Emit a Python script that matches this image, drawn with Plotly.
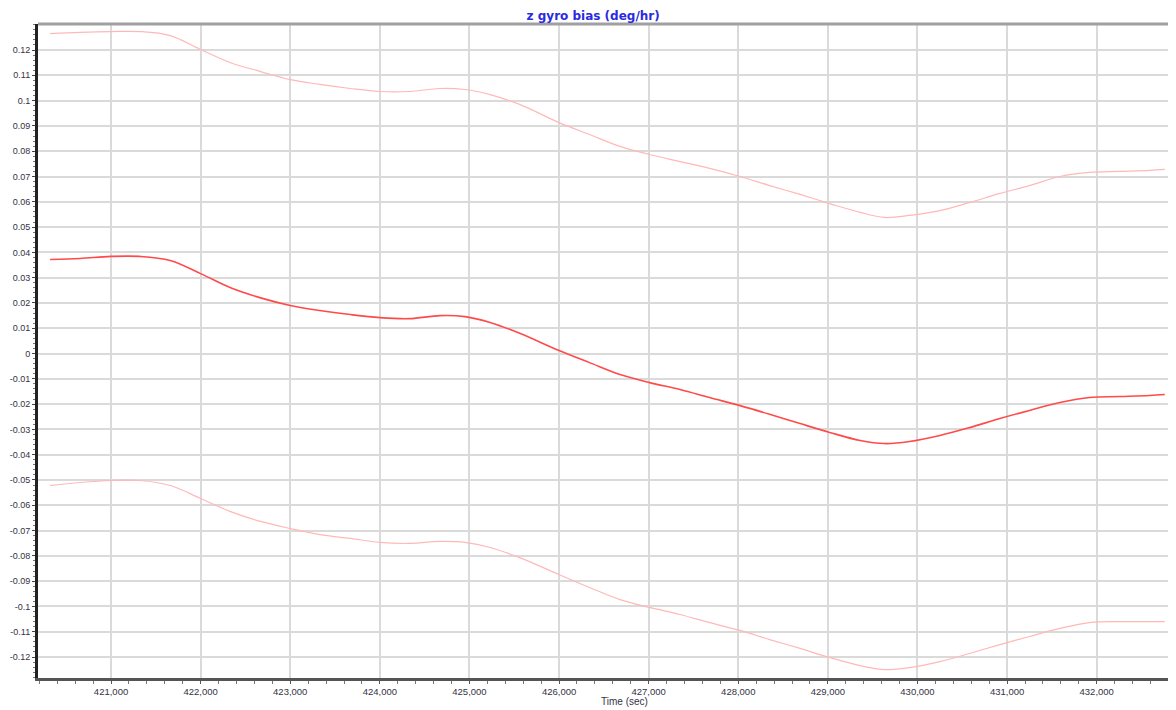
import plotly.graph_objects as go

# time axis (sec) and the three curves
time_sec = [420320, 420654, 421000, 421323, 421660, 422000, 422335, 422670, 423000, 423330,
            423670, 424000, 424330, 424670, 424950, 425230, 425560, 426000, 426340, 426680,
            427010, 427350, 427680, 428020, 428350, 428690, 429020, 429360, 429630, 429910,
            430250, 430580, 430920, 431250, 431590, 431920, 432260, 432590, 432760]

bias_mid = [0.0372, 0.0376, 0.0384, 0.0384, 0.0368, 0.0316, 0.0260, 0.0220, 0.0190, 0.0170,
            0.0154, 0.0142, 0.0138, 0.0150, 0.0146, 0.0123, 0.0080, 0.0012, -0.0036, -0.0083,
            -0.0115, -0.0142, -0.0174, -0.0206, -0.0240, -0.0277, -0.0312, -0.0344, -0.0356, -0.0348,
            -0.0324, -0.0293, -0.0257, -0.0225, -0.0194, -0.0174, -0.0170, -0.0166, -0.0162]

bias_upper = [0.1265, 0.1270, 0.1273, 0.1273, 0.1257, 0.1202, 0.1150, 0.1115, 0.1083, 0.1064,
              0.1048, 0.1036, 0.1036, 0.1048, 0.1044, 0.1024, 0.0985, 0.0913, 0.0866, 0.0819,
              0.0787, 0.0759, 0.0732, 0.0700, 0.0664, 0.0629, 0.0593, 0.0558, 0.0538, 0.0546,
              0.0565, 0.0597, 0.0633, 0.0664, 0.0700, 0.0716, 0.0720, 0.0724, 0.0728]

bias_lower = [-0.0522, -0.0510, -0.0502, -0.0502, -0.0522, -0.0573, -0.0625, -0.0664, -0.0692, -0.0716,
              -0.0731, -0.0747, -0.0751, -0.0743, -0.0747, -0.0767, -0.0807, -0.0874, -0.0925, -0.0973,
              -0.1004, -0.1032, -0.1064, -0.1095, -0.1131, -0.1166, -0.1202, -0.1234, -0.1250, -0.1242,
              -0.1218, -0.1186, -0.1151, -0.1119, -0.1087, -0.1064, -0.1060, -0.1060, -0.1060]

y_ticks = [round(-0.12 + 0.01 * i, 2) for i in range(25)]
y_labels = [('%g' % v) for v in y_ticks]

font = "Liberation Sans"
label_color = '#333344'

fig = go.Figure()
fig.add_trace(go.Scatter(x=time_sec, y=bias_upper, mode='lines', line=dict(color='#ffb8b8', width=1.2, shape='spline'), showlegend=False))
fig.add_trace(go.Scatter(x=time_sec, y=bias_lower, mode='lines', line=dict(color='#ffb8b8', width=1.2, shape='spline'), showlegend=False))
fig.add_trace(go.Scatter(x=time_sec, y=bias_mid, mode='lines', line=dict(color='#ff4a4a', width=1.6, shape='spline'), showlegend=False))

# page has an 8px body margin, so the figure is 8px smaller each way
fig.update_layout(
    width=1168, height=702,
    margin=dict(l=30, r=0, t=16, b=32),
    paper_bgcolor='white', plot_bgcolor='white',
    title=dict(text='<b>z gyro bias (deg/hr)</b>', x=0.501, xanchor='center', y=1 - 7.5 / 702, yanchor='middle',
               font=dict(family="DejaVu Sans", size=12, color='#2a2ae0')),
    xaxis=dict(range=[420185, 432885], dtick=1000, tick0=0, tickformat=',d', automargin=False,
               showgrid=True, gridcolor='#dadada', gridwidth=1.5, zeroline=False,
               showline=True, linecolor='#555555', linewidth=3,
               ticks='outside', ticklen=3, tickcolor='#555555',
               minor=dict(dtick=200, ticks='outside', ticklen=3, tickcolor='#777777', showgrid=False),
               tickfont=dict(family=font, size=9.5, color=label_color)),
    yaxis=dict(range=[-0.1283, 0.1303], tickvals=y_ticks, ticktext=y_labels, automargin=False,
               showgrid=True, gridcolor='#dadada', gridwidth=1.5, zeroline=False,
               showline=True, linecolor='#222222', linewidth=3,
               ticks='outside', ticklen=3, tickcolor='#444444',
               minor=dict(dtick=0.002, tick0=0, ticks='outside', ticklen=2, tickcolor='#777777', showgrid=False),
               tickfont=dict(family=font, size=9, color=label_color)),
    shapes=[dict(type='line', xref='paper', yref='paper', x0=0, x1=1, y0=1, y1=1,
                 line=dict(color='#a0a0a0', width=3))],
    annotations=[dict(text='Time (sec)', xref='paper', yref='paper', x=0.515, y=0, yshift=-23,
                      xanchor='center', yanchor='middle', showarrow=False,
                      font=dict(family=font, size=10, color=label_color))],
)

fig.write_html("out.html")
